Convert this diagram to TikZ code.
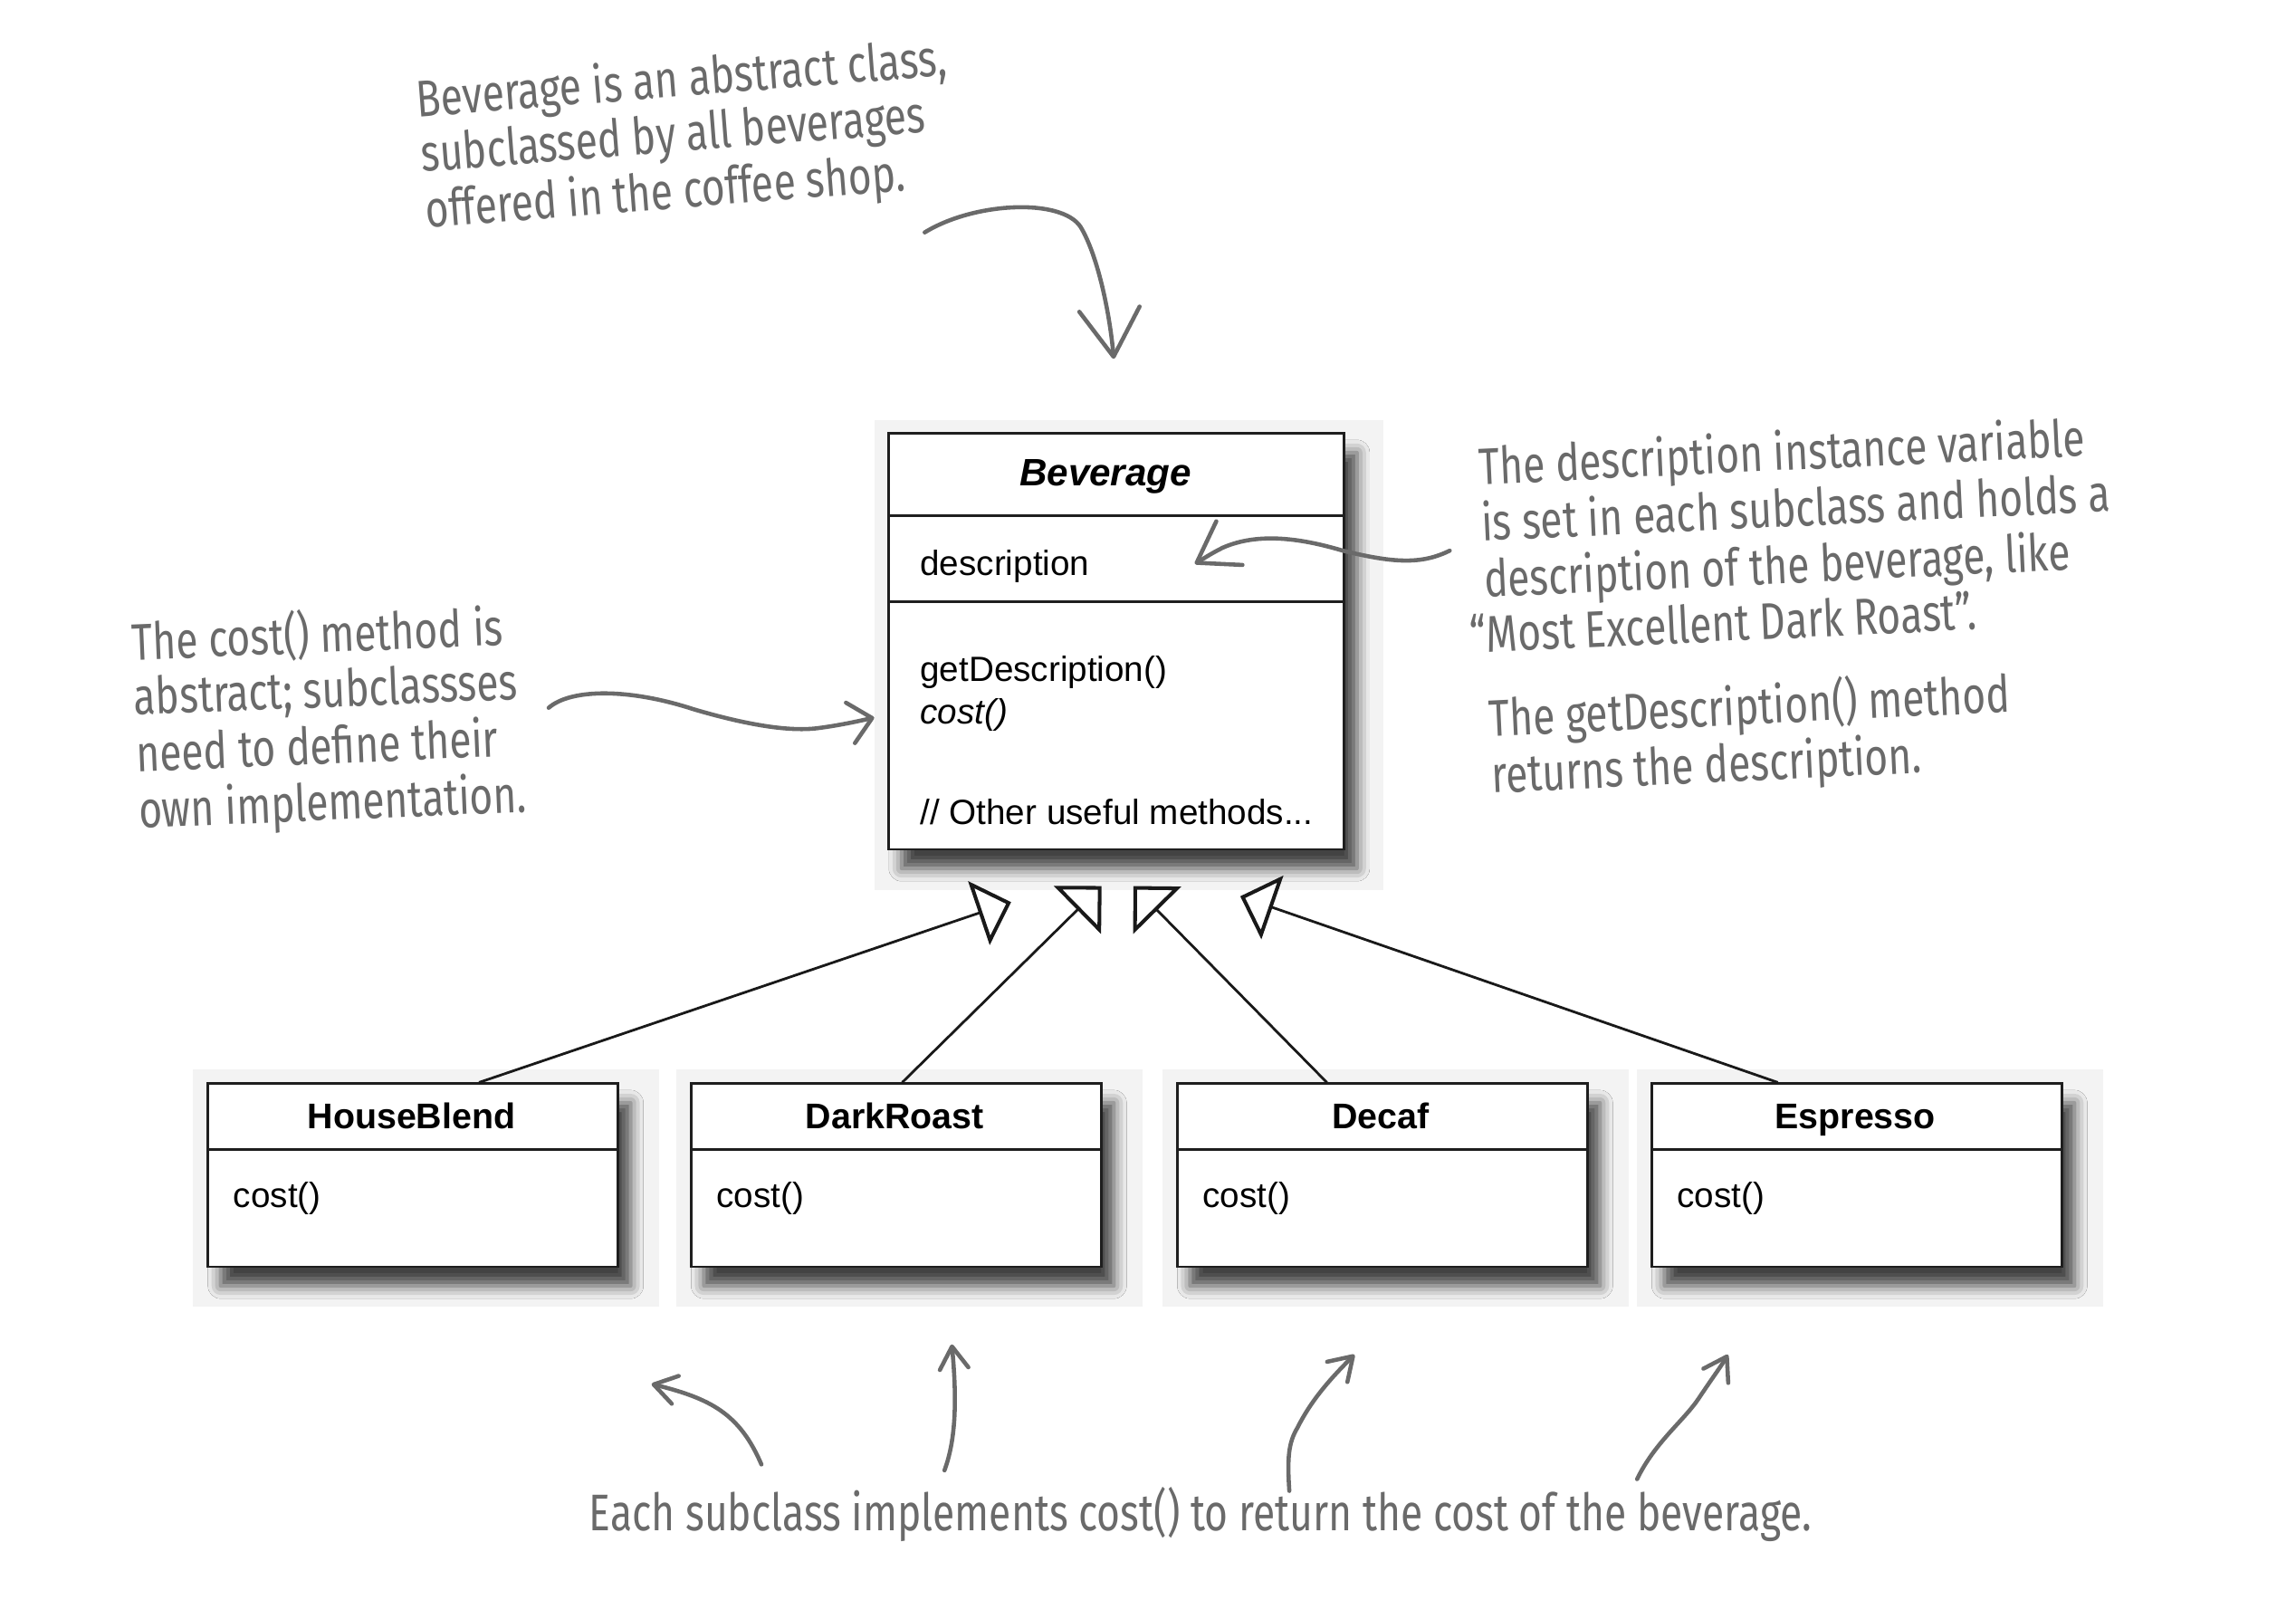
\documentclass[tikz,border=0pt]{standalone}
\usepackage{fontspec}
\setmainfont{Liberation Sans}
\newfontfamily\handfont[FakeStretch=0.78]{Fira Sans}
\usetikzlibrary{arrows.meta,fit,shadows.blur,calc}
\definecolor{handgray}{HTML}{6A6A6A}
\definecolor{panelgray}{HTML}{F3F3F3}
\definecolor{umlline}{HTML}{1E1E1E}
\newcommand\handlines[1]{\begin{tabular}[t]{@{}l@{}}#1\end{tabular}}
\begin{document}
\begin{tikzpicture}[x=0.016173cm, y=-0.016173cm,
  panel/.style={fill=panelgray},
  umlbox/.style={draw=umlline, line width=0.8pt, fill=white, inner sep=0pt,
    blur shadow={shadow xshift=4pt, shadow yshift=-6pt, shadow blur radius=4pt, shadow opacity=72}},
  sepline/.style={draw=umlline, line width=0.8pt},
  umltxt/.style={font=\fontsize{11}{13}\selectfont, text=black, inner sep=0pt, anchor=base west},
  umltitle/.style={font=\fontsize{11.2}{13}\selectfont\bfseries, text=black, inner sep=0pt, anchor=base},
  gen/.style={draw=black!90, line width=0.8pt,
    -{Triangle[length=10.7pt, width=21pt, line width=1.15pt, fill=white]}},
  hand/.style={font=\handfont\fontsize{16.2}{17}\selectfont, text=handgray, inner sep=0pt, anchor=base west},
  harrow/.style={draw=handgray, line width=1.3pt, line cap=round, line join=round},
]
\fill[white] (0,0) rectangle (1568,1105.5);
\useasboundingbox (0,0) rectangle (1568,1105.5);

% ---------- Beverage ----------
\fill[panel] (597,287) rectangle (945,608);
\node[umlbox, fit={(607,296) (918,580)}] (bev) {};
\draw[sepline] (607,352) -- (918,352);
\draw[sepline] (607,411) -- (918,411);
\node[font=\fontsize{12}{14}\selectfont\bfseries\itshape, inner sep=0pt, anchor=base] (bevname) at (755,332) {Beverage};
\node[umltxt] (battr) at (628,393) {description};
\node[umltxt] (bm1) at (628,465) {getDescription()};
\node[umltxt] (bm2) at (628,494.5) {\itshape cost()};
\node[umltxt] (bm3) at (628,563) {// Other useful methods...};

% ---------- subclasses ----------
\foreach \nm/\lbl/\xl in {hb/HouseBlend/142, dr/DarkRoast/472, dc/Decaf/804, es/Espresso/1128}{
  \fill[panel] (\xl-10,730) rectangle (\xl+308,892);
  \node[umlbox, fit={(\xl,740) (\xl+280,865)}] (\nm) {};
  \draw[sepline] (\xl,785) -- (\xl+280,785);
  \node[umltitle] (\nm-title) at (\xl+139,771) {\lbl};
  \node[umltxt] (\nm-cost) at (\xl+17,824.5) {cost()};
}

% ---------- generalization arrows ----------
\coordinate (tipA) at (690.5,616);
\coordinate (tipB) at (752.3,605);
\coordinate (tipC) at (774,605);
\coordinate (tipD) at (847,612);
\draw[gen] ($(hb.north west)+(186,0)$) -- (tipA);
\draw[gen] ($(dr.north west)+(145,0)$) -- (tipB);
\draw[gen] ($(dc.north west)+(103,0)$) -- (tipC);
\draw[gen] ($(es.north west)+(87,0)$) -- (tipD);

% ---------- annotations ----------
\node[hand, rotate=4.5] (topnote) at (285,80)
  {\handlines{Beverage is an abstract class,\\ subclassed by all beverages\\ offered in the coffee shop.}};

\node[hand, rotate=2.7] (descnote) at (1010,331)
  {\handlines{The description instance variable\\ is set in each subclass and holds a\\ description of the beverage, like\\ \llap{“}Most Excellent Dark Roast”.}};
\node[hand, rotate=2.7] (getnote) at (1017,503)
  {\handlines{The getDescription() method\\ returns the description.}};

\node[hand, rotate=2.4] (costnote) at (90,451)
  {\handlines{The cost() method is\\ abstract; subclassses\\ need to define their\\ own implementation.}};

\node[hand] (btm) at (402,1045) {Each subclass implements cost() to return the cost of the beverage.};

% ---------- hand-drawn arrows ----------
\coordinate (a1s) at (631.5,158.7);
\coordinate (a1e) at (760.6,245);
\draw[harrow, -{Straight Barb[length=15pt, width=19pt, round]}]
  (a1s) .. controls (665,138) and (725,135) .. (738,155)
        .. controls (750,175) and (758,215) .. (a1e);

\coordinate (a2s) at (990,376);
\coordinate (a2e) at (816,385);
\draw[harrow, -{Straight Barb[length=12pt, width=16pt, round]}]
  (a2s) .. controls (970,386) and (950,384) .. (917,376)
        .. controls (890,368) and (860,363) .. (835,374)
        .. controls (827,378) and (821,382) .. (a2e);

\coordinate (a3s) at (374.7,483.3);
\coordinate (a3e) at (597,490);
\draw[harrow, -{Straight Barb[length=7pt, width=13pt, round]}]
  (a3s) .. controls (390,470) and (430,470) .. (473.7,484.3)
        .. controls (510,495) and (540,500) .. (560,497)
        .. controls (575,495) and (588,492) .. (a3e);

\coordinate (b1s) at (520,1000);
\coordinate (b1e) at (445,945);
\draw[harrow, -{Straight Barb[length=7pt, width=9pt, round]}]
  (b1s) .. controls (505,965) and (485,955) .. (b1e);
\coordinate (b2s) at (645,1004);
\coordinate (b2e) at (650,918);
\draw[harrow, -{Straight Barb[length=7pt, width=9pt, round]}]
  (b2s) .. controls (652,985) and (654,960) .. (b2e);
\coordinate (b3s) at (880.5,1018);
\coordinate (b3e) at (925,925);
\draw[harrow, -{Straight Barb[length=7pt, width=9pt, round]}]
  (b3s) .. controls (879,995) and (880,985) .. (886,975)
        .. controls (896,955) and (910,940) .. (b3e);
\coordinate (b4s) at (1118,1010);
\coordinate (b4e) at (1180,925);
\draw[harrow, -{Straight Barb[length=7pt, width=9pt, round]}]
  (b4s) .. controls (1130,985) and (1150,970) .. (1160,955)
        .. controls (1170,940) and (1176,932) .. (b4e);
\end{tikzpicture}
\end{document}
